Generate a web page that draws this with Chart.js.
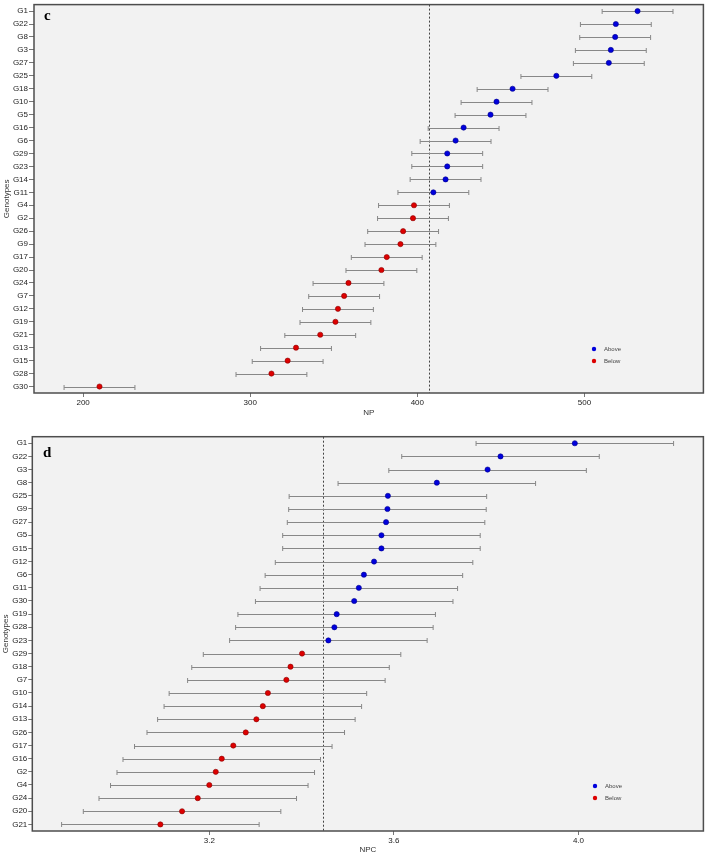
<!DOCTYPE html>
<html>
<head>
<meta charset="utf-8">
<script src="https://cdn.jsdelivr.net/npm/chart.js@4.4.1/dist/chart.umd.min.js"></script>
<style>
  html,body{margin:0;padding:0;background:#fff;}
  #wrap{position:relative;width:708px;height:855px;overflow:hidden;}
  .box{position:absolute;left:0;width:708px;}
  canvas{display:block;}
</style>
</head>
<body>
<div id="wrap">
  <div class="box" style="top:0;height:425px;"><canvas id="c1" width="708" height="425"></canvas></div>
  <div class="box" style="top:425px;height:430px;"><canvas id="c2" width="708" height="430"></canvas></div>
</div>
<script>
// ---------- Panel c : NP ----------
const npGenotypes = ["G1","G22","G8","G3","G27","G25","G18","G10","G5","G16","G6","G29","G23","G14","G11",
                     "G4","G2","G26","G9","G17","G20","G24","G7","G12","G19","G21","G13","G15","G28","G30"];
const npValues = [531.8,518.8,518.4,515.8,514.6,483.2,457.0,447.4,443.8,427.7,422.9,417.9,417.9,416.9,409.6,
                  398.0,397.4,391.5,389.9,381.7,378.5,358.8,356.2,352.5,351.0,341.9,327.4,322.4,312.7,209.8];
const npHalfCI = 21.2;
const npMean = 407.2;
const npTicks = [200, 300, 400, 500];

// ---------- Panel d : NPC ----------
const npcGenotypes = ["G1","G22","G3","G8","G25","G9","G27","G5","G15","G12","G6","G11","G30","G19","G28",
                      "G23","G29","G18","G7","G10","G14","G13","G26","G17","G16","G2","G4","G24","G20","G21"];
const npcValues = [3.992,3.831,3.803,3.693,3.587,3.586,3.583,3.573,3.573,3.557,3.535,3.524,3.514,3.476,3.471,
                   3.458,3.401,3.376,3.367,3.327,3.316,3.302,3.279,3.252,3.227,3.214,3.200,3.175,3.141,3.094];
const npcHalfCI = 0.214;
const npcMean = 3.447;
const npcTicks = [3.2, 3.6, 4.0];

const BLUE = '#0000dd', RED = '#dd0000';
const FONT = 'Liberation Sans, Arial, sans-serif';

function makeChart(canvasId, cfg) {
  const above = [], below = [];
  cfg.cats.forEach((g, i) => {
    const p = {x: cfg.values[i], y: g, lo: cfg.values[i] - cfg.half, hi: cfg.values[i] + cfg.half};
    (cfg.values[i] >= cfg.mean ? above : below).push(p);
  });

  const decor = {
    id: 'decor',
    beforeDraw(chart) {
      const {ctx, chartArea: a} = chart;
      ctx.save();
      ctx.fillStyle = '#f2f2f2';
      ctx.fillRect(a.left, a.top, a.right - a.left, a.bottom - a.top);
      ctx.restore();
    },
    beforeDatasetsDraw(chart) {
      const {ctx, chartArea: a, scales: {x, y}} = chart;
      ctx.save();
      // mean line
      const mx = Math.round(x.getPixelForValue(cfg.mean)) + 0.5;
      ctx.strokeStyle = '#444';
      ctx.lineWidth = 1;
      ctx.setLineDash([2, 2]);
      ctx.beginPath(); ctx.moveTo(mx, a.top); ctx.lineTo(mx, a.bottom); ctx.stroke();
      ctx.setLineDash([]);
      // error bars
      ctx.strokeStyle = '#888';
      ctx.lineWidth = 1;
      chart.data.datasets.forEach(ds => {
        ds.data.forEach(p => {
          const py = Math.round(y.getPixelForValue(cfg.cats.indexOf(p.y))) + 0.5;
          const x1 = x.getPixelForValue(p.lo), x2 = x.getPixelForValue(p.hi);
          ctx.beginPath();
          ctx.moveTo(x1, py); ctx.lineTo(x2, py);
          ctx.moveTo(x1, py - 2.5); ctx.lineTo(x1, py + 2.5);
          ctx.moveTo(x2, py - 2.5); ctx.lineTo(x2, py + 2.5);
          ctx.stroke();
        });
      });
      ctx.restore();
    },
    afterDraw(chart) {
      const {ctx, chartArea: a} = chart;
      ctx.save();
      ctx.strokeStyle = '#4d4d4d';
      ctx.lineWidth = 1.5;
      ctx.strokeRect(a.left, a.top, a.right - a.left, a.bottom - a.top);
      // panel letter
      ctx.fillStyle = '#000';
      ctx.font = 'bold 15px "Liberation Serif", "Times New Roman", serif';
      ctx.textBaseline = 'middle';
      ctx.textAlign = 'left';
      ctx.fillText(cfg.letter, cfg.letterPos[0], cfg.letterPos[1]);
      // legend
      ctx.font = '6px ' + FONT;
      const L = cfg.legendPos;
      [['Above', BLUE], ['Below', RED]].forEach((it, k) => {
        const ly = L[1] + k * 12;
        ctx.beginPath();
        ctx.fillStyle = it[1];
        ctx.arc(L[0], ly, 2.2, 0, Math.PI * 2);
        ctx.fill();
        ctx.fillStyle = '#444';
        ctx.fillText(it[0], L[0] + 10, ly + 0.5);
      });
      ctx.restore();
    }
  };

  return new Chart(document.getElementById(canvasId), {
    type: 'scatter',
    data: {
      datasets: [
        {label: 'Above', data: above, backgroundColor: BLUE, borderColor: '#00008a', pointRadius: 2.6, pointBorderWidth: 0.6},
        {label: 'Below', data: below, backgroundColor: RED, borderColor: '#8a0000', pointRadius: 2.6, pointBorderWidth: 0.6}
      ]
    },
    options: {
      responsive: false,
      animation: false,
      events: [],
      layout: {padding: {top: cfg.padTop, right: cfg.padRight, left: 0, bottom: 0}},
      plugins: {legend: {display: false}, tooltip: {enabled: false}},
      scales: {
        x: {
          type: 'linear',
          min: cfg.xmin, max: cfg.xmax,
          afterBuildTicks: s => { s.ticks = cfg.ticks.map(v => ({value: v})); },
          afterFit: s => { s.height = cfg.xh; s.paddingLeft = 0; s.paddingRight = 0; },
          ticks: {
            font: {size: 8, family: FONT}, color: '#222', padding: 1, maxRotation: 0,
            callback: v => cfg.tickFmt(v)
          },
          grid: {drawOnChartArea: false, drawTicks: true, tickLength: 4, color: '#777'},
          border: {display: false},
          title: {display: true, text: cfg.xTitle, font: {size: 8, family: FONT}, color: '#333',
                  padding: {top: 0, bottom: cfg.xTitlePad}}
        },
        y: {
          type: 'category',
          labels: cfg.cats,
          offset: true,
          afterFit: s => { s.width = cfg.yw; s.paddingTop = 0; s.paddingBottom = 0; },
          ticks: {font: {size: 8, family: FONT}, color: '#222', padding: 1, autoSkip: false},
          grid: {drawOnChartArea: false, drawTicks: true, tickLength: cfg.yTick, color: '#777', offset: false},
          border: {display: false},
          title: {display: true, text: 'Genotypes', font: {size: 8, family: FONT}, color: '#333',
                  padding: {top: cfg.yTitlePad, bottom: 0}}
        }
      }
    },
    plugins: [decor]
  });
}

makeChart('c1', {
  cats: npGenotypes, values: npValues, half: npHalfCI, mean: npMean, ticks: npTicks,
  xmin: 170.6, xmax: 571.2, xTitle: 'NP', tickFmt: v => String(v),
  padTop: 1.5, padRight: 3, xh: 32, yw: 34, yTick: 5, xTitlePad: 7, yTitlePad: 2,
  letter: 'c', letterPos: [44, 16], legendPos: [594, 349]
});

makeChart('c2', {
  cats: npcGenotypes, values: npcValues, half: npcHalfCI, mean: npcMean, ticks: npcTicks,
  xmin: 2.8165, xmax: 4.2706, xTitle: 'NPC', tickFmt: v => v.toFixed(1),
  padTop: 11.7, padRight: 2, xh: 24, yw: 32.3, yTick: 4, xTitlePad: 0, yTitlePad: 0.5,
  letter: 'd', letterPos: [43, 453 - 425], legendPos: [595, 786 - 425]
});
</script>
</body>
</html>
